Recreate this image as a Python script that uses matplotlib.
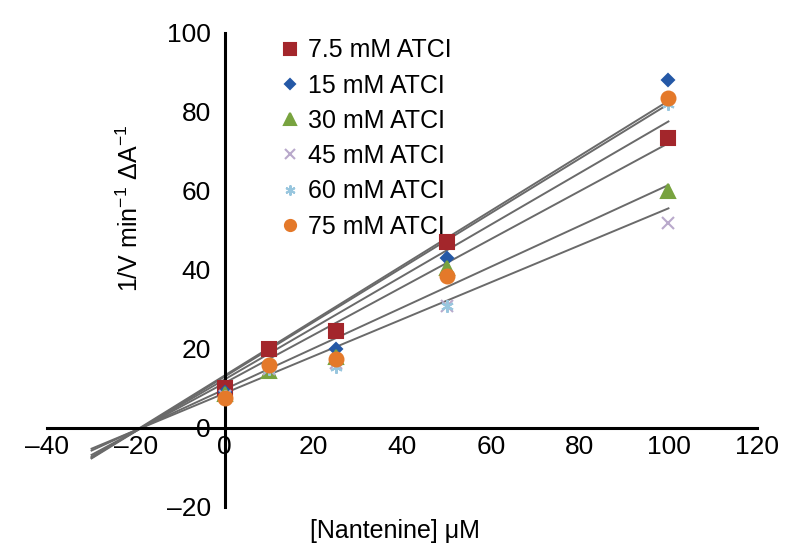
import numpy as np
import matplotlib
matplotlib.use('Agg')
import matplotlib.pyplot as plt

plt.rcParams['font.family'] = ['Liberation Sans', 'DejaVu Sans']
plt.rcParams['mathtext.fontset'] = 'custom'
plt.rcParams['mathtext.rm'] = 'Liberation Sans'

# Nantenine concentrations (uM)
conc = [0, 10, 25, 50, 100]

labels = ['7.5 mM ATCI', '15 mM ATCI', '30 mM ATCI', '45 mM ATCI', '60 mM ATCI', '75 mM ATCI']
inv_v = [
    [10.0, 20.0, 24.5, 47.0, 73.5],   # 7.5 mM
    [9.0, 16.0, 20.0, 43.0, 88.0],    # 15 mM
    [8.5, 14.5, 18.0, 40.5, 60.0],    # 30 mM
    [8.0, 15.0, 16.5, 31.0, 52.0],    # 45 mM
    [8.0, 15.0, 15.5, 31.0, 82.0],    # 60 mM
    [7.5, 16.0, 17.5, 38.5, 83.5],    # 75 mM
]

# trend lines as drawn in the original (slope, intercept)
fit_slope = [0.607, 0.653, 0.517, 0.468, 0.690, 0.695]
fit_intercept = [11.4, 12.3, 9.8, 8.8, 13.0, 13.3]
fit_range = [-30, 100]

markers = ['s', 'D', '^', 'x', (6, 2, 0), 'o']
colors = ['#A3262B', '#2458A6', '#78A33F', '#B9A9CB', '#98C6DE', '#E4792A']
sizes = [10, 6.5, 10, 9, 9, 10]

fig = plt.figure(figsize=(8, 5.57), dpi=100)
ax = fig.add_axes([0.059, 0.0898, 0.8875, 0.851])

xs = np.array(fit_range)
for k in range(len(labels)):
    ax.plot(xs, fit_slope[k] * xs + fit_intercept[k], color='#6a6a6a', lw=1.4, zorder=2)

for k in range(len(labels)):
    ax.plot(conc, inv_v[k], ls='none', marker=markers[k], ms=sizes[k], mew=1.5,
            color=colors[k], mec=colors[k], label=labels[k], zorder=3)

ax.set_xlim(-40, 120)
ax.set_ylim(-20, 100)
ax.set_xticks(range(-40, 121, 20))
ax.set_yticks(range(-20, 101, 20))
ax.set_xticklabels([str(v).replace('-', '\u2013') for v in range(-40, 121, 20)])
ax.set_yticklabels([str(v).replace('-', '\u2013') for v in range(-20, 101, 20)])

for s in ['top', 'right']:
    ax.spines[s].set_visible(False)
ax.spines['left'].set_position(('data', 0))
ax.spines['bottom'].set_position(('data', 0))
ax.spines['left'].set_linewidth(2.2)
ax.spines['bottom'].set_linewidth(2.2)
ax.tick_params(axis='both', length=0, labelsize=19)
ax.tick_params(axis='y', pad=10)
ax.tick_params(axis='x', pad=5)

ax.set_xlabel('[Nantenine] \u03bcM', fontsize=18)
ax.xaxis.set_label_coords(0.49, -0.025)
ax.set_ylabel('1/V min$^{-1}$ \u0394A$^{-1}$', fontsize=18)
ax.yaxis.set_label_coords(0.135, 0.63)

ax.legend(loc='upper left', bbox_to_anchor=(0.292, 1.036), frameon=False, fontsize=18,
          handletextpad=0.25, labelspacing=0.45, handlelength=1.0, markerscale=0.8)

plt.savefig('out.png', dpi=100)
